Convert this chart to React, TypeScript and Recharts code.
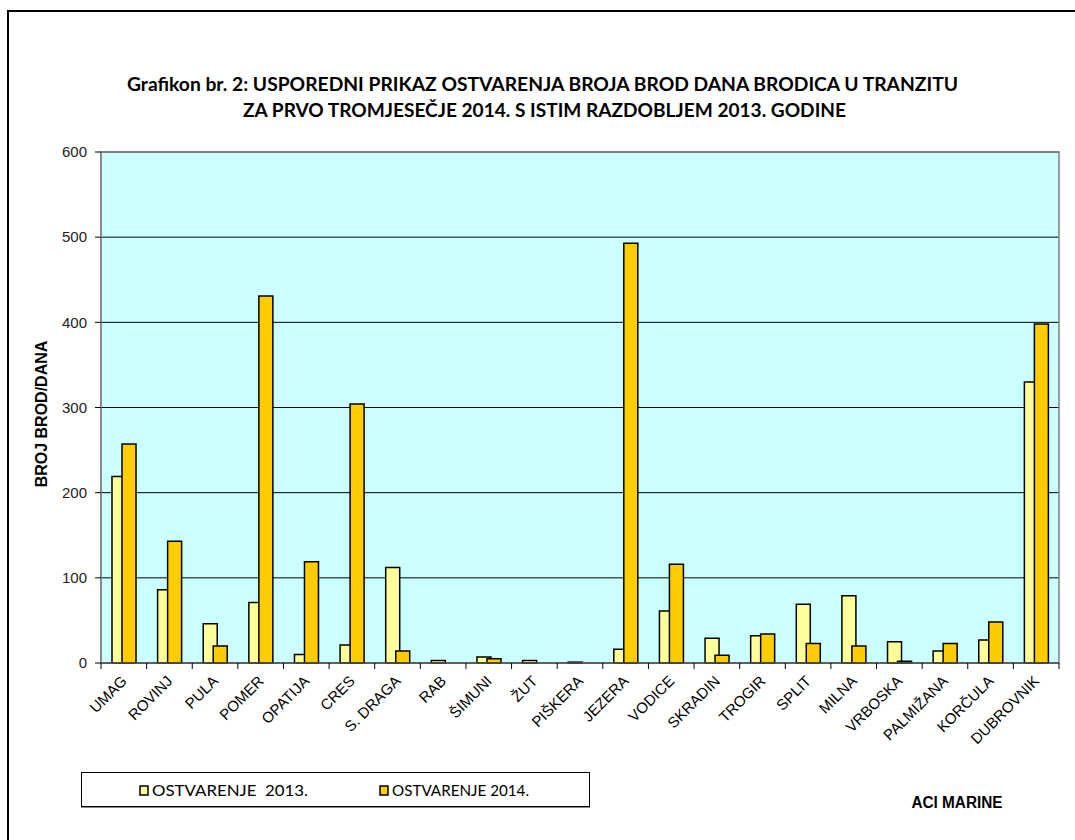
import React from 'react';
import { BarChart, Bar, XAxis, YAxis, CartesianGrid, Legend, ReferenceArea } from 'recharts';

const categories = ['UMAG', 'ROVINJ', 'PULA', 'POMER', 'OPATIJA', 'CRES', 'S. DRAGA', 'RAB', 'ŠIMUNI', 'ŽUT', 'PIŠKERA', 'JEZERA', 'VODICE', 'SKRADIN', 'TROGIR', 'SPLIT', 'MILNA', 'VRBOSKA', 'PALMIŽANA', 'KORČULA', 'DUBROVNIK'];
const values2013 = [219, 86, 46, 71, 10, 21, 112, 3, 7, 3, 1, 16, 61, 29, 32, 69, 79, 25, 14, 27, 330];
const values2014 = [257, 143, 20, 431, 119, 304, 14, 0, 5, 0, 0, 493, 116, 9, 34, 23, 20, 2, 23, 48, 398];
const yTicks = [0, 100, 200, 300, 400, 500, 600];
const seriesNames = ['OSTVARENJE  2013.', 'OSTVARENJE 2014.'];
const titleLines = [
  'Grafikon br. 2: USPOREDNI PRIKAZ OSTVARENJA BROJA BROD DANA BRODICA U TRANZITU',
  'ZA PRVO TROMJESEČJE 2014. S ISTIM RAZDOBLJEM 2013. GODINE',
];
const yLabel = 'BROJ BROD/DANA';
const footer = 'ACI MARINE';

const data = categories.map((name, i) => ({ name, v2013: values2013[i], v2014: values2014[i] }));

const W = 1075;
const H = 840;
const legendHeight = 35;
const margin = { top: 152, right: 16, left: 0, bottom: 77 - legendHeight };
const yAxisWidth = 101;
const xAxisHeight = 100;
const plotWidth = W - margin.left - margin.right - yAxisWidth;
const band = plotWidth / categories.length;

const C2013 = '#FFFF99';
const C2014 = '#FFCC00';

const XTick = (props: any) => {
  const { x, y, payload, index } = props;
  const left = x - band / 2;
  const right = x + band / 2;
  const tx = x + 4;
  const ty = y + 19;
  return (
    <g>
      <line x1={left} y1={y} x2={left} y2={y + 6} stroke="#000" strokeWidth={1} />
      {index === categories.length - 1 && (
        <line x1={right} y1={y} x2={right} y2={y + 6} stroke="#000" strokeWidth={1} />
      )}
      <text
        x={tx}
        y={ty}
        transform={`rotate(-45, ${tx}, ${ty})`}
        textAnchor="end"
        fontFamily="'Liberation Sans', Arial, sans-serif"
        fontSize={15}
        fill="#000"
      >
        {payload.value}
      </text>
    </g>
  );
};

const LegendContent = () => (
  <div style={{ width: 509, height: legendHeight, border: '1px solid #000', boxShadow: '0 1px 0 #888', background: '#fff', boxSizing: 'border-box' }}>
    <svg width={507} height={33} style={{ display: 'block' }}>
      {[C2013, C2014].map((c, i) => (
        <g key={i}>
          <rect x={58 + i * 240} y={13} width={8} height={9} fill={c} stroke="#000" strokeWidth={1.5} />
          <text
            x={70 + i * 240}
            y={23}
            fontFamily="Lato, 'Open Sans', sans-serif"
            fontSize={15}
            fill="#000"
            textLength={i === 0 ? 156 : 137}
            lengthAdjust="spacingAndGlyphs"
            style={{ whiteSpace: 'pre' }}
          >
            {seriesNames[i]}
          </text>
        </g>
      ))}
    </svg>
  </div>
);

export default function App() {
  return (
    <div style={{ position: 'absolute', left: 0, top: 0, width: W, height: H, overflow: 'hidden', background: '#fff' }}>
      <div style={{ position: 'absolute', left: 7, top: 10, width: W + 50, height: H + 50, borderLeft: '2px solid #000', borderTop: '2px solid #000' }} />
      <div style={{ position: 'absolute', left: 0, top: 0 }}>
        <BarChart width={W} height={H} data={data} margin={margin} barGap={-4} barSize={14}>
          <CartesianGrid vertical={false} stroke="#000" strokeWidth={1} fill="#CCFFFF" fillOpacity={1} />
          <ReferenceArea y1={0} y2={600} fill="none" stroke="#808080" strokeWidth={1.5} />
          <XAxis
            dataKey="name"
            interval={0}
            tickLine={false}
            tickSize={0}
            tickMargin={0}
            height={xAxisHeight}
            axisLine={{ stroke: '#555', strokeWidth: 1.5 }}
            tick={<XTick />}
          />
          <YAxis
            domain={[0, 600]}
            ticks={yTicks}
            interval={0}
            width={yAxisWidth}
            tickSize={6}
            tickMargin={8}
            axisLine={{ stroke: '#808080', strokeWidth: 1.5 }}
            tickLine={{ stroke: '#000' }}
            tick={{ fill: '#222', fontSize: 15, fontFamily: "'Liberation Sans', Arial, sans-serif" }}
          />
          <Legend
            content={<LegendContent />}
            wrapperStyle={{ position: 'absolute', left: 81, top: 772, width: 509, height: legendHeight }}
          />
          <Bar dataKey="v2013" name={seriesNames[0]} fill={C2013} stroke="#000" strokeWidth={1.5} isAnimationActive={false} />
          <Bar dataKey="v2014" name={seriesNames[1]} fill={C2014} stroke="#000" strokeWidth={1.5} isAnimationActive={false} />
        </BarChart>
      </div>
      <svg width={W} height={H} style={{ position: 'absolute', left: 0, top: 0, pointerEvents: 'none' }}>
        <text x={542.5} y={91} textAnchor="middle" fontFamily="Lato, 'Open Sans', sans-serif" fontWeight="bold" fontSize={19} fill="#000" textLength={831} lengthAdjust="spacingAndGlyphs">
          {titleLines[0]}
        </text>
        <text x={544.5} y={117} textAnchor="middle" fontFamily="Lato, 'Open Sans', sans-serif" fontWeight="bold" fontSize={19} fill="#000" textLength={603} lengthAdjust="spacingAndGlyphs">
          {titleLines[1]}
        </text>
        <text x={47} y={414} textAnchor="middle" transform="rotate(-90, 47, 414)" fontFamily="'Liberation Sans', Arial, sans-serif" fontWeight="bold" fontSize={16} fill="#000">
          {yLabel}
        </text>
        <text x={957} y={808} textAnchor="middle" fontFamily="'Liberation Sans Narrow', 'Liberation Sans', Arial, sans-serif" fontWeight="bold" fontSize={16} fill="#000" textLength={91} lengthAdjust="spacingAndGlyphs">
          {footer}
        </text>
      </svg>
    </div>
  );
}
